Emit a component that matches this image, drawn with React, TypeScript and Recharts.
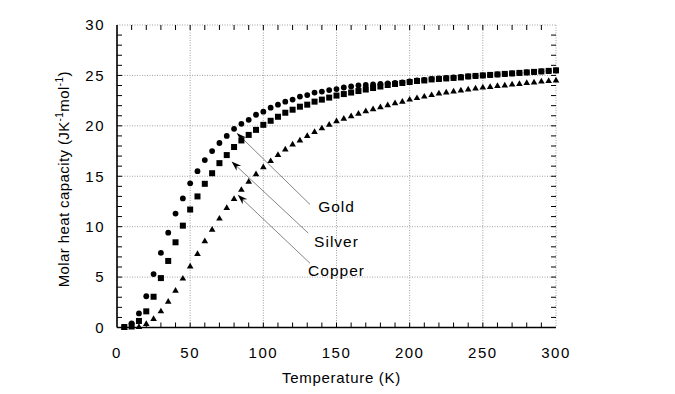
import React from "react";
import {
  ScatterChart,
  Scatter,
  XAxis,
  YAxis,
  CartesianGrid,
  ReferenceLine,
  ReferenceDot,
  Label,
} from "recharts";

const FONT = '"Liberation Sans", Arial, Helvetica, sans-serif';

// temperature (K) of every measured point
const temps = [
  5, 10, 15, 20, 25, 30, 35, 40, 45, 50, 55, 60, 65, 70, 75, 80, 85, 90, 95, 100,
  105, 110, 115, 120, 125, 130, 135, 140, 145, 150, 155, 160, 165, 170, 175, 180, 185, 190, 195, 200,
  205, 210, 215, 220, 225, 230, 235, 240, 245, 250, 255, 260, 265, 270, 275, 280, 285, 290, 295, 300,
];

// molar heat capacity, J K^-1 mol^-1
const gold = [
  0.05, 0.4, 1.4, 3.1, 5.3, 7.4, 9.4, 11.3, 12.8, 14.3, 15.5, 16.6, 17.5, 18.3, 19.0, 19.7, 20.2, 20.6, 21.1, 21.4,
  21.8, 22.1, 22.4, 22.6, 22.9, 23.05, 23.3, 23.4, 23.55, 23.65, 23.8, 23.9, 24.0, 24.05, 24.1, 24.15, 24.2, 24.25, 24.3, 24.4,
  24.5, 24.55, 24.65, 24.7, 24.75, 24.8, 24.85, 24.9, 24.95, 25.0, 25.05, 25.1, 25.15, 25.2, 25.25, 25.3, 25.35, 25.4, 25.45, 25.5,
];
const silver = [
  0.05, 0.2, 0.65, 1.6, 3.05, 4.9, 6.6, 8.45, 10.1, 11.7, 13.0, 14.25, 15.3, 16.3, 17.1, 17.9, 18.55, 19.1, 19.6, 20.1,
  20.5, 20.9, 21.3, 21.6, 21.9, 22.1, 22.4, 22.6, 22.8, 23.0, 23.15, 23.3, 23.45, 23.6, 23.75, 23.9, 24.05, 24.15, 24.25, 24.35,
  24.45, 24.5, 24.6, 24.65, 24.7, 24.75, 24.8, 24.9, 24.95, 25.0, 25.05, 25.1, 25.15, 25.2, 25.25, 25.3, 25.35, 25.4, 25.45, 25.5,
];
const copper = [
  0.0, 0.05, 0.1, 0.4, 0.9, 1.65, 2.6, 3.7, 4.9, 6.1, 7.35, 8.6, 9.75, 10.85, 11.9, 12.8, 13.7, 14.5, 15.25, 15.95,
  16.55, 17.15, 17.7, 18.2, 18.6, 19.05, 19.45, 19.8, 20.15, 20.5, 20.75, 21.0, 21.25, 21.5, 21.7, 21.9, 22.1, 22.3, 22.45, 22.65,
  22.8, 22.95, 23.1, 23.25, 23.35, 23.45, 23.55, 23.65, 23.75, 23.85, 23.9, 24.0, 24.05, 24.15, 24.2, 24.3, 24.35, 24.45, 24.5, 24.55,
];

const xTicks = [0, 50, 100, 150, 200, 250, 300];
const yTicks = [0, 5, 10, 15, 20, 25, 30];
const xMinor = [
  10, 20, 30, 40, 50, 60, 70, 80, 90, 100, 110, 120, 130, 140, 150,
  160, 170, 180, 190, 200, 210, 220, 230, 240, 250, 260, 270, 280, 290,
];
const yMinor = [
  1, 2, 3, 4, 5, 6, 7, 8, 9, 10, 11, 12, 13, 14, 15,
  16, 17, 18, 19, 20, 21, 22, 23, 24, 25, 26, 27, 28, 29,
];

// labels with arrows: [T, C] of the arrow tail, arrow tip and text
const notes = [
  { name: "Gold", tail: [131.9, 12.2], tip: [81.8, 19.3], text: [150, 11.44] },
  { name: "Silver", tail: [130.7, 9.36], tip: [78.3, 16.46], text: [150, 8.02] },
  { name: "Copper", tail: [131.9, 6.37], tip: [82.5, 13.16], text: [150, 5.14] },
];

const toPoints = (vals: number[]) => vals.map((c, i) => ({ t: temps[i], c }));

const Circle = (p: any) => <circle cx={p.cx} cy={p.cy} r={2.9} fill="#000" />;
const Square = (p: any) => (
  <rect x={p.cx - 3} y={p.cy - 3} width={6} height={6} fill="#000" />
);
const Triangle = (p: any) => (
  <polygon
    points={`${p.cx},${p.cy - 3.2} ${p.cx - 3.3},${p.cy + 2.5} ${p.cx + 3.3},${p.cy + 2.5}`}
    fill="#000"
  />
);

const TICK = 5;

// inward tick marks at both ends of a full-height reference line
const VTicks = (p: any) => {
  const top = Math.min(p.y1, p.y2);
  const bot = Math.max(p.y1, p.y2);
  return (
    <g stroke="#000" strokeWidth={1}>
      <line x1={p.x1} x2={p.x1} y1={bot} y2={bot - TICK} />
      <line x1={p.x1} x2={p.x1} y1={top} y2={top + TICK} />
    </g>
  );
};
const HTicks = (p: any) => {
  const left = Math.min(p.x1, p.x2);
  const right = Math.max(p.x1, p.x2);
  return (
    <g stroke="#000" strokeWidth={1}>
      <line x1={left} x2={left + TICK} y1={p.y1} y2={p.y1} />
      <line x1={right} x2={right - TICK} y1={p.y1} y2={p.y1} />
    </g>
  );
};

const Arrow = (p: any) => {
  const { x1, y1, x2, y2 } = p;
  const dx = x2 - x1;
  const dy = y2 - y1;
  const len = Math.hypot(dx, dy) || 1;
  const ux = dx / len;
  const uy = dy / len;
  const L = 10;
  const W = 3.4;
  const N = 7;
  const bx = x2 - ux * L;
  const by = y2 - uy * L;
  const nx = x2 - ux * N;
  const ny = y2 - uy * N;
  return (
    <g>
      <line x1={x1} y1={y1} x2={nx} y2={ny} stroke="#777" strokeWidth={0.9} />
      <polygon
        points={`${x2},${y2} ${bx - uy * W},${by + ux * W} ${nx},${ny} ${bx + uy * W},${by - ux * W}`}
        fill="#000"
      />
    </g>
  );
};

const tickStyle = { fontSize: 15, fill: "#000", fontFamily: FONT, letterSpacing: 1.5 };
const frame = { stroke: "#000", strokeWidth: 1.6 };

export default function App() {
  return (
    <div style={{ position: "absolute", left: 0, top: 0, background: "#fff" }}>
      <ScatterChart
        width={675}
        height={394}
        margin={{ top: 25, right: 119, left: 0, bottom: 0 }}
        style={{ fontFamily: FONT }}
      >
        <CartesianGrid
          xAxisId="main"
          yAxisId="main"
          stroke="#8a8a8a"
          strokeDasharray="1 1.5"
          strokeWidth={0.8}
        />
        <XAxis
          xAxisId="main"
          type="number"
          dataKey="t"
          domain={[0, 300]}
          ticks={xTicks}
          height={66.5}
          tickLine={false}
          tickMargin={14}
          axisLine={frame}
          tick={tickStyle}
        >
          <Label
            content={(props: any) => {
              const vb = props.viewBox || { x: 117, y: 327.5, width: 439 };
              return (
                <text
                  x={vb.x + vb.width / 2 + 5}
                  y={vb.y + 55}
                  textAnchor="middle"
                  fontSize={15}
                  letterSpacing={0.7}
                  fontFamily={FONT}
                  fill="#000"
                >
                  Temperature (K)
                </text>
              );
            }}
          />
        </XAxis>
        <XAxis
          xAxisId="top"
          type="number"
          dataKey="t"
          domain={[0, 300]}
          orientation="top"
          mirror
          height={0}
          axisLine={frame}
          tick={false}
          tickLine={false}
        />
        <YAxis
          yAxisId="main"
          type="number"
          dataKey="c"
          domain={[0, 30]}
          ticks={yTicks}
          width={117}
          tickLine={false}
          tickMargin={6}
          axisLine={frame}
          tick={tickStyle}
        >
          <Label
            content={(props: any) => {
              const vb = props.viewBox || { x: 0, y: 25, height: 302.5 };
              const cx = 68.5;
              const cy = vb.y + vb.height / 2 + 3;
              return (
                <text
                  x={cx}
                  y={cy}
                  transform={`rotate(-90 ${cx} ${cy})`}
                  textAnchor="middle"
                  fontSize={15}
                  letterSpacing={0.4}
                  fontFamily={FONT}
                  fill="#000"
                >
                  Molar heat capacity (JK
                  <tspan fontSize={10} dy={-6}>-1</tspan>
                  <tspan dy={6}>mol</tspan>
                  <tspan fontSize={10} dy={-6}>-1</tspan>
                  <tspan dy={6}>)</tspan>
                </text>
              );
            }}
          />
        </YAxis>
        <YAxis
          yAxisId="right"
          type="number"
          dataKey="c"
          domain={[0, 30]}
          orientation="right"
          mirror
          width={0}
          axisLine={frame}
          tick={false}
          tickLine={false}
        />

        {xMinor.map((t) => (
          <ReferenceLine
            key={`xm-${t}`}
            xAxisId="main"
            yAxisId="main"
            x={t}
            shape={VTicks}
          />
        ))}
        {yMinor.map((c) => (
          <ReferenceLine
            key={`ym-${c}`}
            xAxisId="main"
            yAxisId="main"
            y={c}
            shape={HTicks}
          />
        ))}

        <Scatter
          xAxisId="main"
          yAxisId="main"
          data={toPoints(gold)}
          shape={Circle}
          isAnimationActive={false}
        />
        <Scatter
          xAxisId="main"
          yAxisId="main"
          data={toPoints(silver)}
          shape={Square}
          isAnimationActive={false}
        />
        <Scatter
          xAxisId="main"
          yAxisId="main"
          data={toPoints(copper)}
          shape={Triangle}
          isAnimationActive={false}
        />

        {notes.map((n) => (
          <ReferenceLine
            key={`arrow-${n.name}`}
            xAxisId="main"
            yAxisId="main"
            segment={[
              { x: n.tail[0], y: n.tail[1] },
              { x: n.tip[0], y: n.tip[1] },
            ]}
            shape={Arrow}
          />
        ))}
        {notes.map((n) => (
          <ReferenceDot
            key={`text-${n.name}`}
            xAxisId="main"
            yAxisId="main"
            x={n.text[0]}
            y={n.text[1]}
            r={0}
            shape={(p: any) => (
              <text
                x={p.cx}
                y={p.cy}
                textAnchor="middle"
                fontSize={15.5}
                letterSpacing={1}
                fontFamily={FONT}
                fill="#000"
              >
                {n.name}
              </text>
            )}
          />
        ))}
      </ScatterChart>
    </div>
  );
}
